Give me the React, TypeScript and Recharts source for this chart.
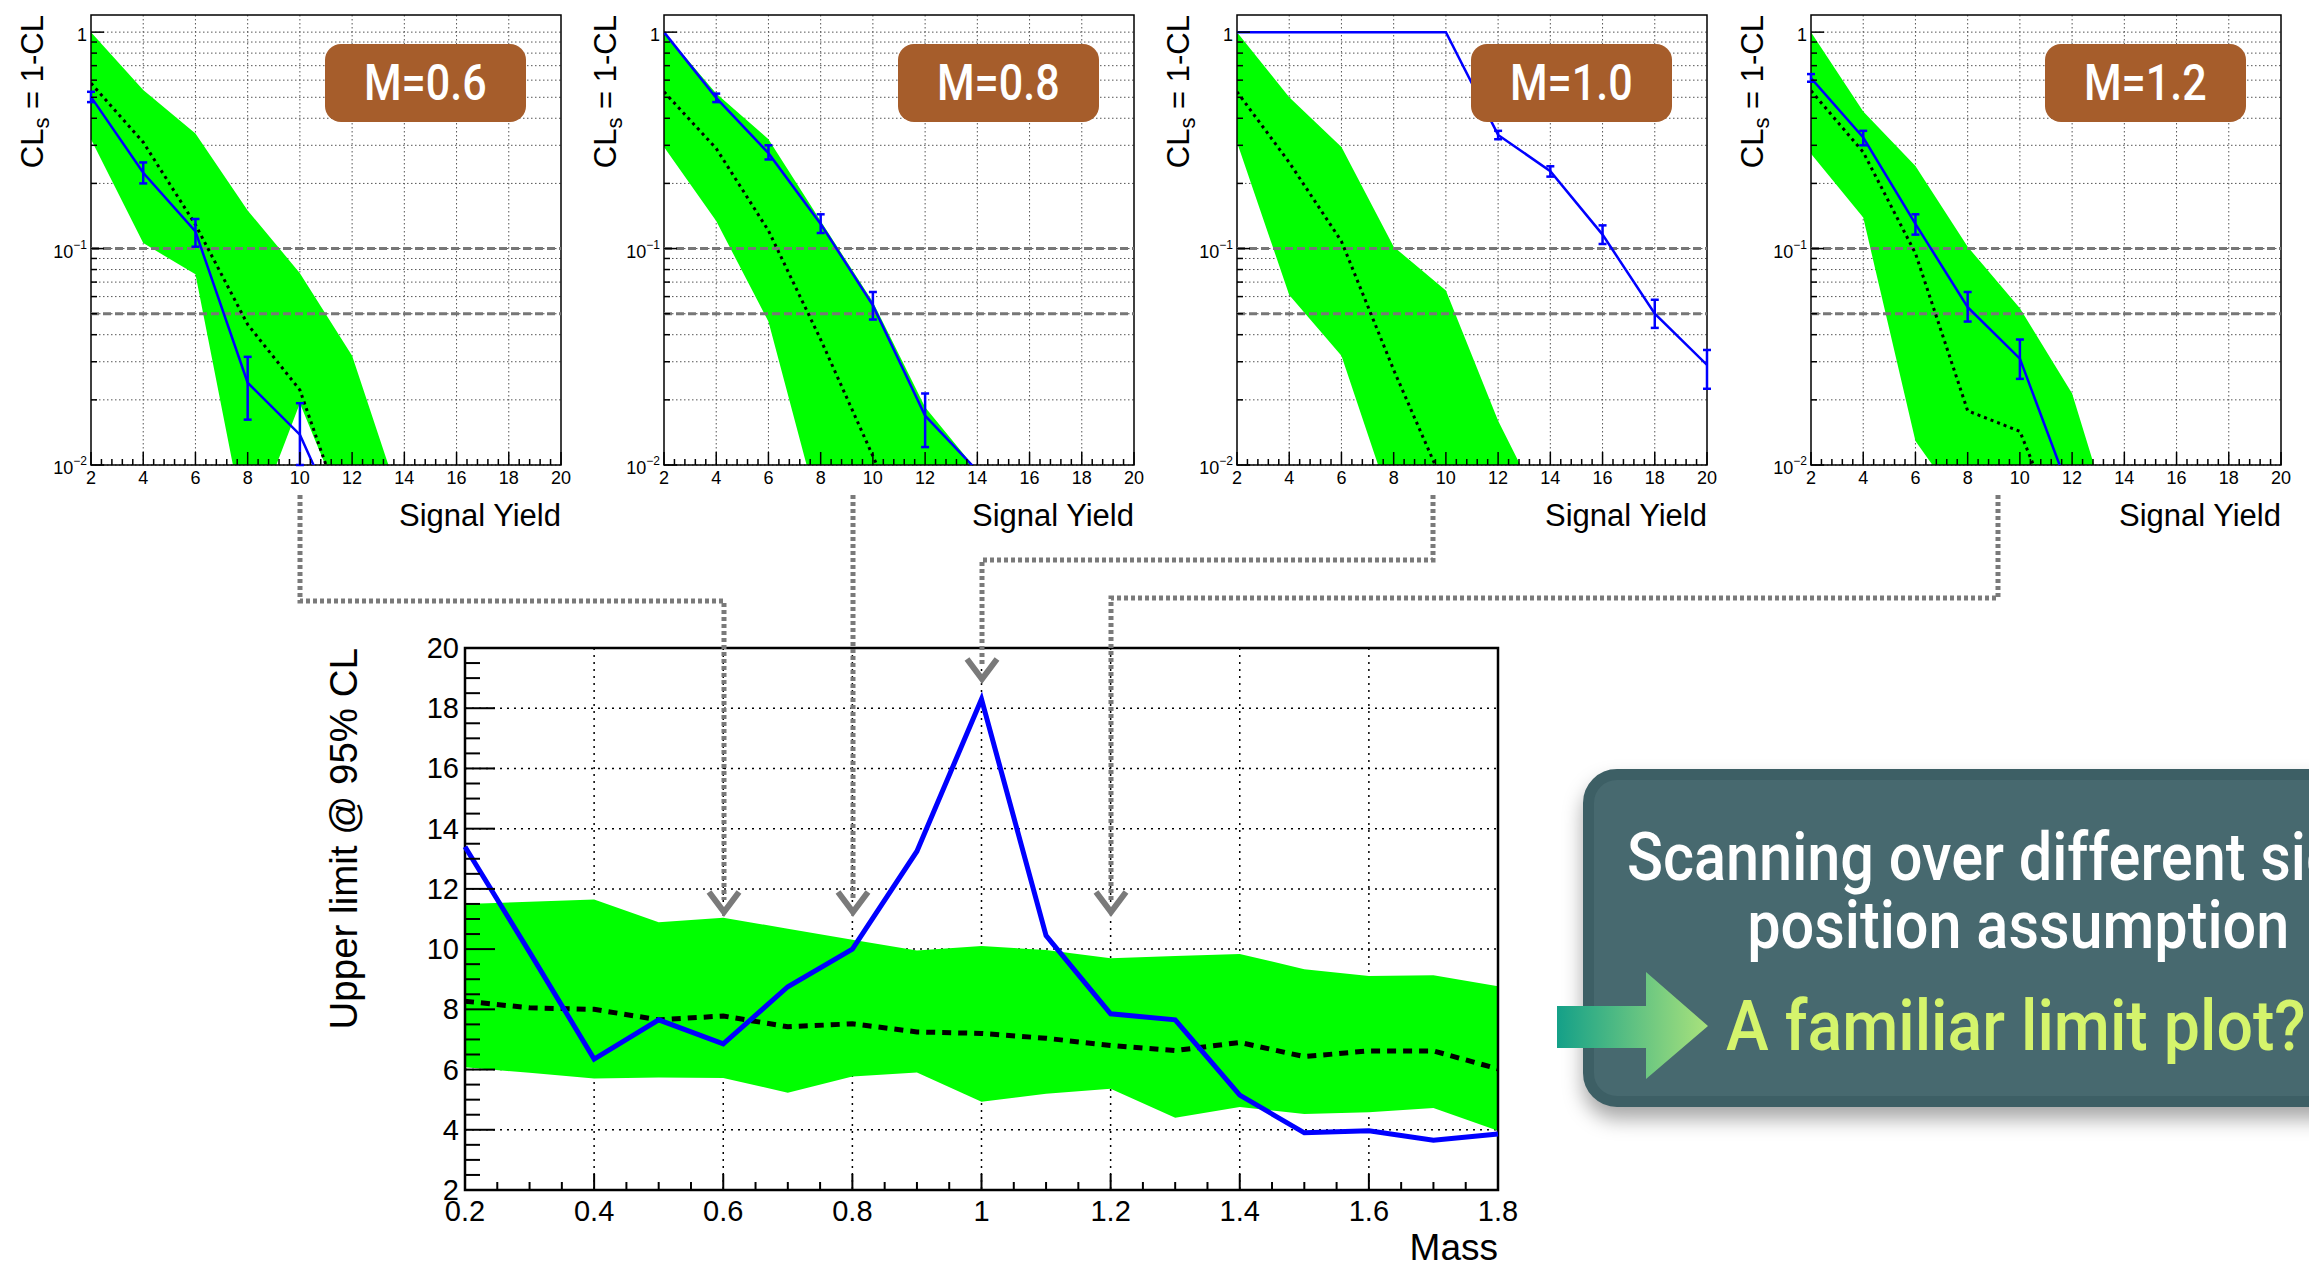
import React from "react";
import {
  ComposedChart,
  Line,
  Area,
  XAxis,
  YAxis,
  CartesianGrid,
  ReferenceLine,
  ReferenceArea,
  ErrorBar,
} from "recharts";

// ---- CLs scans vs signal yield (one panel per mass hypothesis) ----
const signalYield = [2, 4, 6, 8, 10, 12, 14, 16, 18, 20];
const panelMasses = ["M=0.6", "M=0.8", "M=1.0", "M=1.2"];

const obsM06 = [0.502, 0.224, 0.12, 0.024, 0.0138, 0.004];
const obsLoM06 = [0.475, 0.2, 0.102, 0.0162, 0.01];
const obsHiM06 = [0.53, 0.25, 0.137, 0.0316, 0.0193];
const expM06 = [0.58, 0.31, 0.129, 0.0446, 0.0222, 0.0045];
const bandLoM06 = [0.32, 0.106, 0.076, 0.0045, 0.0193, 0.005, 0.001];
const bandHiM06 = [1.0, 0.54, 0.34, 0.15, 0.077, 0.032, 0.006];

const obsM08 = [1.0, 0.497, 0.276, 0.13, 0.0546, 0.0169, 0.0094];
const obsLoM08 = [null, 0.475, 0.258, 0.118, 0.047, 0.0121];
const obsHiM08 = [null, 0.52, 0.3, 0.144, 0.063, 0.0214];
const expM08 = [0.53, 0.29, 0.121, 0.038, 0.011, 0.0032];
const bandLoM08 = [0.295, 0.134, 0.046, 0.0057, 0.002, 0.001, 0.001];
const bandHiM08 = [1.0, 0.52, 0.32, 0.134, 0.0566, 0.0185, 0.0094];

const obsM10 = [1.0, 1.0, 1.0, 1.0, 1.0, 0.335, 0.228, 0.116, 0.05, 0.029];
const obsLoM10 = [null, null, null, null, null, 0.32, 0.215, 0.105, 0.043, 0.0225];
const obsHiM10 = [null, null, null, null, null, 0.35, 0.24, 0.128, 0.058, 0.034];
const expM10 = [0.53, 0.25, 0.108, 0.0275, 0.0077];
const bandLoM10 = [0.31, 0.061, 0.032, 0.0061, 0.002, 0.001, 0.001];
const bandHiM10 = [1.0, 0.5, 0.295, 0.102, 0.064, 0.016, 0.0053];

const obsM12 = [0.614, 0.326, 0.13, 0.0536, 0.031, 0.007];
const obsLoM12 = [0.59, 0.3, 0.116, 0.046, 0.025];
const obsHiM12 = [0.64, 0.35, 0.144, 0.063, 0.038];
const expM12 = [0.536, 0.279, 0.095, 0.0178, 0.0143, 0.0036];
const bandLoM12 = [0.274, 0.139, 0.0129, 0.0059, 0.002, 0.001, 0.001];
const bandHiM12 = [1.0, 0.43, 0.241, 0.102, 0.053, 0.0214, 0.0035];

// axis ticks of the small panels
const yieldTicks = Array.from({ length: 46 }, (_, i) => Math.round((2 + i * 0.4) * 10) / 10);
const yieldGrid = [4, 6, 8, 10, 12, 14, 16, 18];
const clsTicks = [
  0.01, 0.02, 0.03, 0.04, 0.05, 0.06, 0.07, 0.08, 0.09,
  0.1, 0.2, 0.3, 0.4, 0.5, 0.6, 0.7, 0.8, 0.9, 1,
];
const clsLevels = [0.1, 0.05];

// ---- upper limit vs mass ----
const massPoints = [0.2, 0.3, 0.4, 0.5, 0.6, 0.7, 0.8, 0.9, 1.0, 1.1, 1.2, 1.3, 1.4, 1.5, 1.6, 1.7, 1.8];
const observedLimit = [13.4, 9.9, 6.35, 7.65, 6.85, 8.75, 10.0, 13.25, 18.3, 10.45, 7.85, 7.65, 5.15, 3.9, 3.97, 3.65, 3.86];
const expectedLimit = [8.27, 8.05, 8.0, 7.65, 7.78, 7.42, 7.52, 7.25, 7.2, 7.04, 6.8, 6.63, 6.9, 6.43, 6.62, 6.62, 6.02];
const band1SigLo = [6.08, 5.89, 5.7, 5.74, 5.72, 5.23, 5.77, 5.9, 4.93, 5.2, 5.36, 4.4, 4.76, 4.52, 4.58, 4.72, 3.97];
const band1SigHi = [11.5, 11.57, 11.65, 10.89, 11.04, 10.68, 10.31, 9.95, 10.1, 9.97, 9.7, 9.77, 9.84, 9.33, 9.11, 9.13, 8.77];

const massTicks = Array.from({ length: 33 }, (_, i) => Math.round((0.2 + i * 0.05) * 100) / 100);
const massGrid = [0.4, 0.6, 0.8, 1.0, 1.2, 1.4, 1.6];
const limitTicks = Array.from({ length: 37 }, (_, i) => 2 + i * 0.5);
const limitGrid = [4, 6, 8, 10, 12, 14, 16, 18];

const ROOT_FONT = "'Liberation Sans', Arial, Helvetica, sans-serif";
const SLIDE_FONT = "Roboto, 'Open Sans', sans-serif";

const panels = [
  { label: panelMasses[0], obs: obsM06, lo: obsLoM06, hi: obsHiM06, exp: expM06, bLo: bandLoM06, bHi: bandHiM06 },
  { label: panelMasses[1], obs: obsM08, lo: obsLoM08, hi: obsHiM08, exp: expM08, bLo: bandLoM08, bHi: bandHiM08 },
  { label: panelMasses[2], obs: obsM10, lo: obsLoM10, hi: obsHiM10, exp: expM10, bLo: bandLoM10, bHi: bandHiM10 },
  { label: panelMasses[3], obs: obsM12, lo: obsLoM12, hi: obsHiM12, exp: expM12, bLo: bandLoM12, bHi: bandHiM12 },
];

const scanRows = (p: any) =>
  signalYield.map((x, i) => {
    const o = p.obs[i] ?? null;
    const lo = p.lo[i] ?? null;
    const hi = p.hi[i] ?? null;
    const bl = p.bLo[i] ?? null;
    const bh = p.bHi[i] ?? null;
    return {
      x,
      obs: o,
      err: o != null && lo != null && hi != null ? [o - lo, hi - o] : null,
      exp: p.exp[i] ?? null,
      band: bl != null && bh != null ? [bl, bh] : null,
    };
  });

const limitRows = massPoints.map((m, i) => ({
  m,
  obs: observedLimit[i],
  exp: expectedLimit[i],
  band: [band1SigLo[i], band1SigHi[i]],
}));

// ---- custom ticks (ROOT style, ticks inside the frame) ----
const YieldTick = (props: any) => {
  const { x, y, payload } = props;
  const v = payload.value;
  const major = Math.abs(v / 2 - Math.round(v / 2)) < 1e-6;
  return (
    <g>
      <line x1={x} x2={x} y1={y} y2={y - (major ? 13 : 6)} stroke="#000" strokeWidth={1.5} />
      {major && (
        <text x={x} y={y + 13} textAnchor="middle" dominantBaseline="central" fontSize={18} fontFamily={ROOT_FONT} fill="#000">
          {v}
        </text>
      )}
    </g>
  );
};

const ClsTick = (props: any) => {
  const { x, y, payload } = props;
  const v = payload.value;
  const lg = Math.log10(v);
  const e = Math.round(lg);
  const major = Math.abs(lg - e) < 1e-6;
  return (
    <g>
      <line x1={x} x2={x + (major ? 13 : 6)} y1={y} y2={y} stroke="#000" strokeWidth={1.5} />
      {major && (
        <text x={x - 4} y={y + 3} textAnchor="end" dominantBaseline="central" fontSize={18} fontFamily={ROOT_FONT} fill="#000">
          {e === 0 ? "1" : "10"}
          {e !== 0 && (
            <tspan fontSize={12} dy={-7}>
              {"\u2212" + -e}
            </tspan>
          )}
        </text>
      )}
    </g>
  );
};

const YieldTitle = (props: any) => {
  const { x, y, width } = props.viewBox;
  return (
    <text x={x + width} y={y + 61} textAnchor="end" fontSize={31} fontFamily={ROOT_FONT} fill="#000">
      Signal Yield
    </text>
  );
};

const ClsTitle = (props: any) => {
  const { x, y } = props.viewBox;
  return (
    <text transform={`translate(${x + 43}, ${y}) rotate(-90)`} textAnchor="end" fontSize={31} fontFamily={ROOT_FONT} fill="#000">
      CL
      <tspan fontSize={22} dy={6}>s</tspan>
      <tspan dy={-6}> = 1-CL</tspan>
    </text>
  );
};

const MassTick = (props: any) => {
  const { x, y, payload } = props;
  const v = payload.value;
  const major = Math.abs(v * 5 - Math.round(v * 5)) < 1e-6;
  return (
    <g>
      <line x1={x} x2={x} y1={y} y2={y - (major ? 16 : 8)} stroke="#000" strokeWidth={2} />
      {major && (
        <text x={x} y={y + 21} textAnchor="middle" dominantBaseline="central" fontSize={29} fontFamily={ROOT_FONT} fill="#000">
          {String(v)}
        </text>
      )}
    </g>
  );
};

const LimitTick = (props: any) => {
  const { x, y, payload } = props;
  const v = payload.value;
  const major = Math.abs(v / 2 - Math.round(v / 2)) < 1e-6;
  return (
    <g>
      <line x1={x} x2={x + (major ? 30 : 15)} y1={y} y2={y} stroke="#000" strokeWidth={2} />
      {major && (
        <text x={x - 6} y={y} textAnchor="end" dominantBaseline="central" fontSize={29} fontFamily={ROOT_FONT} fill="#000">
          {v}
        </text>
      )}
    </g>
  );
};

const MassTitle = (props: any) => {
  const { x, y, width } = props.viewBox;
  return (
    <text x={x + width} y={y + 70} textAnchor="end" fontSize={37} fontFamily={ROOT_FONT} fill="#000">
      Mass
    </text>
  );
};

const LimitTitle = (props: any) => {
  const { x, y } = props.viewBox;
  return (
    <text transform={`translate(${x + 57}, ${y}) rotate(-90)`} textAnchor="end" fontSize={38.5} fontFamily={ROOT_FONT} fill="#000">
      Upper limit @ 95% CL
    </text>
  );
};

const ScanPanel = ({ panel, left }: any) => {
  const rows = scanRows(panel);
  return (
    <div style={{ position: "absolute", left, top: 0, width: 573, height: 540 }}>
      <ComposedChart width={573} height={540} data={rows} margin={{ top: 15, right: 12, bottom: 10, left: 0 }}>
        <CartesianGrid stroke="#555" strokeWidth={1} strokeDasharray="1.5 2.5" verticalValues={yieldGrid} horizontalValues={clsTicks} />
        <XAxis
          type="number"
          dataKey="x"
          domain={[2, 20]}
          ticks={yieldTicks}
          interval={0}
          allowDataOverflow
          axisLine={false}
          tickLine={false}
          tickSize={0}
          tickMargin={0}
          height={65}
          tick={<YieldTick />}
          label={<YieldTitle />}
        />
        <YAxis
          type="number"
          scale="log"
          domain={[0.01, 1.2]}
          allowDataOverflow
          ticks={clsTicks}
          interval={0}
          width={91}
          axisLine={false}
          tickLine={false}
          tickSize={0}
          tickMargin={0}
          tick={<ClsTick />}
          label={<ClsTitle />}
        />
        <Area dataKey="band" type="linear" fill="#00ff00" fillOpacity={1} stroke="none" isAnimationActive={false} />
        {clsLevels.map((v) => (
          <ReferenceLine key={v} y={v} stroke="#777" strokeWidth={3} strokeDasharray="8 4" />
        ))}
        <Line dataKey="exp" type="linear" stroke="#000" strokeWidth={3} strokeDasharray="3 4" dot={false} isAnimationActive={false} />
        <Line dataKey="obs" type="linear" stroke="#0000ff" strokeWidth={2.5} dot={false} isAnimationActive={false}>
          <ErrorBar dataKey="err" stroke="#0000ff" strokeWidth={2.5} width={4} />
        </Line>
        <ReferenceArea x1={2} x2={20} y1={0.01} y2={1.2} ifOverflow="visible" fill="none" stroke="#000" strokeWidth={1.5} />
      </ComposedChart>
      <div
        style={{
          position: "absolute",
          left: 325,
          top: 44,
          width: 201,
          height: 78,
          borderRadius: 16,
          background: "#A65D2B",
          color: "#fff",
          fontFamily: SLIDE_FONT,
          fontWeight: 500,
          fontSize: 50,
          display: "flex",
          alignItems: "center",
          justifyContent: "center",
        }}
      >
        <span style={{ display: "inline-block", transform: "scaleX(0.86)" }}>{panel.label}</span>
      </div>
    </div>
  );
};

const LimitChart = () => (
  <div style={{ position: "absolute", left: 300, top: 600, width: 1250, height: 666 }}>
    <ComposedChart width={1250} height={666} data={limitRows} margin={{ top: 48, right: 52, bottom: 16, left: 0 }}>
      <CartesianGrid stroke="#000" strokeWidth={1.5} strokeDasharray="2 5" verticalValues={massGrid} horizontalValues={limitGrid} />
      <XAxis
        type="number"
        dataKey="m"
        domain={[0.2, 1.8]}
        ticks={massTicks}
        interval={0}
        axisLine={false}
        tickLine={false}
        tickSize={0}
        tickMargin={0}
        height={60}
        tick={<MassTick />}
        label={<MassTitle />}
      />
      <YAxis
        type="number"
        domain={[2, 20]}
        ticks={limitTicks}
        interval={0}
        width={165}
        axisLine={false}
        tickLine={false}
        tickSize={0}
        tickMargin={0}
        tick={<LimitTick />}
        label={<LimitTitle />}
      />
      <Area dataKey="band" type="linear" fill="#00ff00" fillOpacity={1} stroke="none" isAnimationActive={false} />
      <Line dataKey="exp" type="linear" stroke="#000" strokeWidth={5} strokeDasharray="9 7" dot={false} isAnimationActive={false} />
      <Line dataKey="obs" type="linear" stroke="#0000ff" strokeWidth={5} dot={false} isAnimationActive={false} />
      <ReferenceArea x1={0.2} x2={1.8} y1={2} y2={20} ifOverflow="visible" fill="none" stroke="#000" strokeWidth={2.5} />
    </ComposedChart>
  </div>
);

// dotted connectors from each scan to its mass point (slide decoration)
const connectors = [
  { d: "M300,495 V601 H724 V900", tip: [724, 912] },
  { d: "M853,495 V900", tip: [853, 912] },
  { d: "M1433,495 V560 H982 V667", tip: [982, 679] },
  { d: "M1998,495 V598 H1111 V900", tip: [1111, 912] },
];

export default function App() {
  const slots = [0, 573, 1146, 1720];
  return (
    <div style={{ position: "absolute", left: 0, top: 0, width: 2309, height: 1266, overflow: "hidden", background: "#fff" }}>
      {panels.map((p, i) => (
        <ScanPanel key={p.label} panel={p} left={slots[i]} />
      ))}
      <LimitChart />

      <div
        style={{
          position: "absolute",
          left: 1583,
          top: 769,
          width: 880,
          height: 338,
          boxSizing: "border-box",
          background: "#47696F",
          border: "11px solid #3D5F65",
          borderRadius: 34,
          boxShadow: "0 12px 20px rgba(0,0,0,0.35)",
        }}
      />
      {[
        { t: "Scanning over different signal", y: 858 },
        { t: "position assumption", y: 926 },
      ].map((l) => (
        <div
          key={l.t}
          style={{
            position: "absolute",
            left: 1583,
            width: 870,
            top: l.y - 33,
            height: 66,
            lineHeight: "66px",
            textAlign: "center",
            whiteSpace: "nowrap",
            color: "#fff",
            fontFamily: SLIDE_FONT,
            fontWeight: 500,
            fontSize: 66,
          }}
        >
          <span style={{ display: "inline-block", transform: "scaleX(0.9)" }}>{l.t}</span>
        </div>
      ))}
      <div
        style={{
          position: "absolute",
          left: 1726,
          top: 991,
          height: 70,
          lineHeight: "70px",
          whiteSpace: "nowrap",
          color: "#D5F46C",
          fontFamily: SLIDE_FONT,
          fontWeight: 500,
          fontSize: 70,
        }}
      >
        <span style={{ display: "inline-block", transform: "scaleX(0.92)", transformOrigin: "left center" }}>
          A familiar limit plot?
        </span>
      </div>

      <svg width={2309} height={1266} style={{ position: "absolute", left: 0, top: 0, pointerEvents: "none" }}>
        <defs>
          <linearGradient id="arrowFill" x1="0" y1="0" x2="1" y2="0">
            <stop offset="0%" stopColor="#14A088" />
            <stop offset="100%" stopColor="#A9E27C" />
          </linearGradient>
        </defs>
        <polygon
          points="1557,1006 1646,1006 1646,972 1708,1026 1646,1079 1646,1048 1557,1048"
          fill="url(#arrowFill)"
        />
        {connectors.map((c, i) => (
          <g key={i}>
            <path d={c.d} fill="none" stroke="#7a7a7a" strokeWidth={5} strokeDasharray="4 3" />
            <polyline
              points={`${c.tip[0] - 15},${c.tip[1] - 20} ${c.tip[0]},${c.tip[1]} ${c.tip[0] + 15},${c.tip[1] - 20}`}
              fill="none"
              stroke="#7a7a7a"
              strokeWidth={6}
            />
          </g>
        ))}
      </svg>
    </div>
  );
}
